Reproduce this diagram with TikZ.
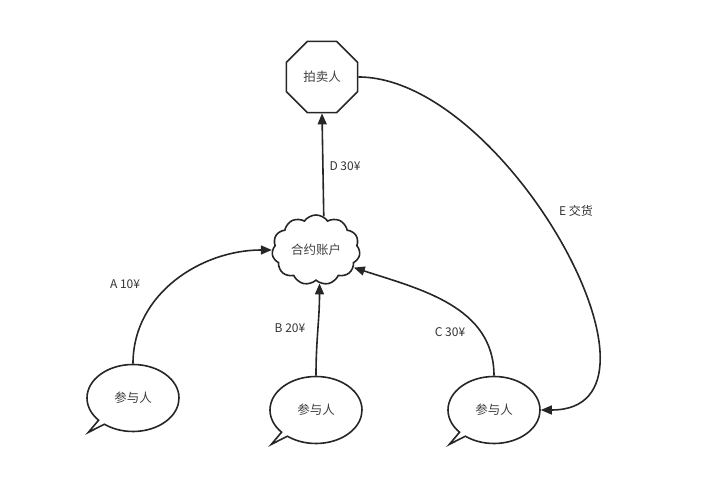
\documentclass[tikz,border=0pt]{standalone}
\usepackage{fontspec}
\setmainfont{Noto Sans CJK SC}
\usepackage{tikz}
\usetikzlibrary{shapes.geometric, shapes.symbols, shapes.callouts, arrows.meta}
\tikzset{
  % Shapes
  seller/.style={regular polygon, regular polygon sides=8, minimum size=77pt, inner sep=0pt, draw=black!85, line width=1.6pt, font=\fontsize{12.5}{14}\selectfont, text=black!75},
  contract/.style={cloud, cloud puffs=11, cloud puff arc=110, aspect=1.3, minimum width=88pt, minimum height=70pt, inner sep=0pt, draw=black!85, line width=1.6pt, font=\fontsize{12.5}{14}\selectfont, text=black!75},
  bubble/.style={ellipse callout, minimum width=92pt, minimum height=67pt, inner sep=0pt, callout relative pointer={(-13pt,-10pt)}, callout pointer arc=10, draw=black!85, line width=1.6pt, font=\fontsize{12.5}{14}\selectfont, text=black!75},
  arrow/.style={-{Triangle[length=11pt, width=9pt]}, line width=1.6pt, draw=black!85},
  lbl/.style={font=\fontsize{12}{14}\selectfont, text=black!80, inner sep=1pt},
}
\begin{document}
\begin{tikzpicture}[x=1pt, y=1pt]
    \useasboundingbox (0,0) rectangle (705,481);

    % Seller and contract
    \node[seller] (oct) at (322,404) {拍卖人};
    \node[contract] (pool) at (316,231) {合约账户};

    % Participants
    \node[bubble] (p1) at (133,83) {参与人};
    \node[bubble] (p2) at (316,71) {参与人};
    \node[bubble] (p3) at (494,71) {参与人};

    % Bids
    \draw[arrow] (p1.north) to[out=90, in=180] (pool.west);
    \draw[arrow] (p2.north) to[out=90, in=-90] (pool.-84);
    \draw[arrow] (p3.north) to[out=90, in=-18] (pool.-25);
    \draw[arrow] (pool.77) -- (oct.south);
    \draw[arrow] (oct.east) to[out=0, in=0] (p3.east);

    % Labels
    \node[lbl] (la) at (125,197) {A 10¥};
    \node[lbl] (lb) at (290,153) {B 20¥};
    \node[lbl] (lc) at (450,149) {C 30¥};
    \node[lbl] (ld) at (345,315) {D 30¥};
    \node[lbl] (le) at (576,270) {E 交货};
\end{tikzpicture}
\end{document}
